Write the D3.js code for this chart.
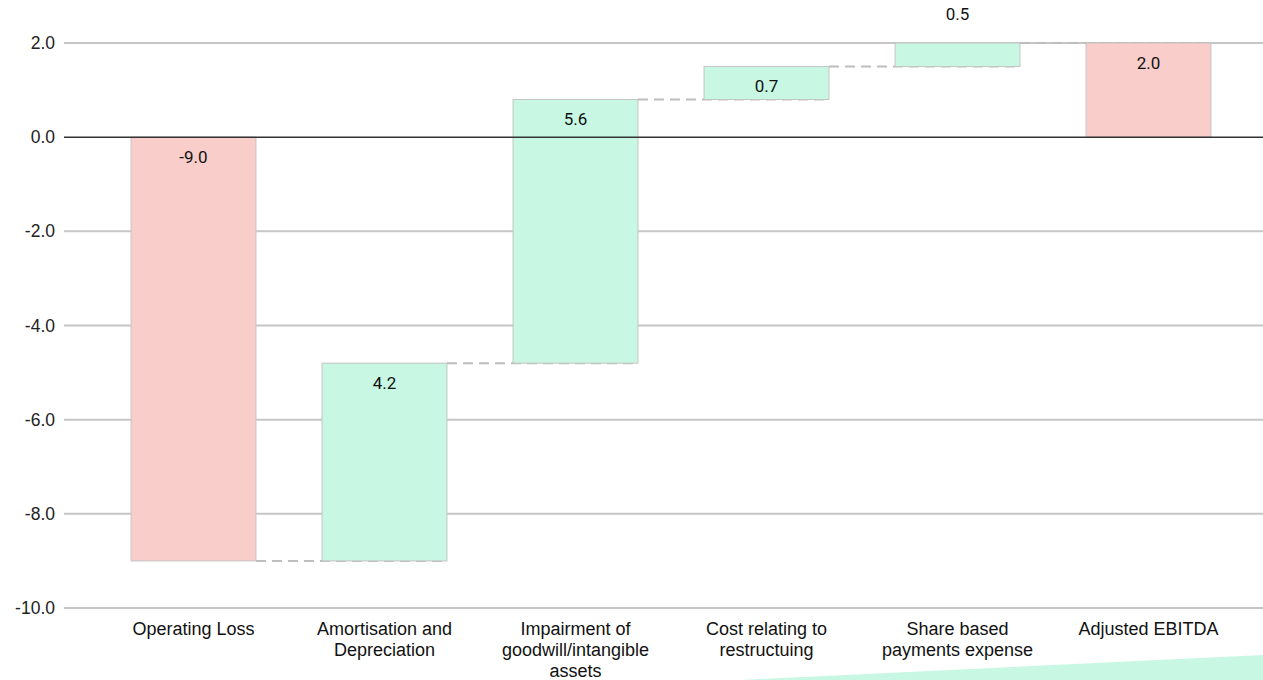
<!DOCTYPE html>
<html>
<head>
<meta charset="utf-8">
<script src="https://cdn.jsdelivr.net/npm/d3@7"></script>
<style>
  html, body { margin: 0; padding: 0; background: #fff; }
  svg { display: block; }
</style>
</head>
<body>
<svg id="chart" width="1263" height="680"></svg>
<script>
// Bridge from operating loss to adjusted EBITDA
const categories = [
  "Operating Loss",
  "Amortisation and Depreciation",
  "Impairment of goodwill/intangible assets",
  "Cost relating to restructuing",
  "Share based payments expense",
  "Adjusted EBITDA"
];
const categoryLines = [
  ["Operating Loss"],
  ["Amortisation and", "Depreciation"],
  ["Impairment of", "goodwill/intangible", "assets"],
  ["Cost relating to", "restructuing"],
  ["Share based", "payments expense"],
  ["Adjusted EBITDA"]
];
const values = [-9.0, 4.2, 5.6, 0.7, 0.5, 2.0];
const isTotal = [true, false, false, false, false, true];
const yTicks = [-10, -8, -6, -4, -2, 0, 2];

const W = 1263, H = 680;
const svg = d3.select("#chart");
const fmt = d3.formatLocale({ decimal: ".", thousands: ",", grouping: [3], currency: ["", ""], minus: "-" }).format(".1f");

const gridLeft = 64, gridRight = W;
const x = d3.scaleBand().domain(categories).range([98, 1244]).paddingInner(0.346).paddingOuter(0.173);
const y = d3.scaleLinear().domain([-10, 2]).range([608, 43]);

// start/end level of each step
let running = 0;
const steps = categories.map((c, i) => {
  let start, end;
  if (isTotal[i]) { start = 0; end = values[i]; running = values[i]; }
  else { start = running; end = running + values[i]; running = end; }
  return { cat: c, value: values[i], start, end, total: isTotal[i], lines: categoryLines[i] };
});

// decorative wedge in the lower right
svg.append("polygon")
  .attr("points", [[740, H], [W, 655], [W, H]].map(p => p.join(",")).join(" "))
  .attr("fill", "#c8f8e3");

// gridlines and y tick labels
const yAxis = svg.append("g");
yAxis.selectAll("line.grid").data(yTicks.filter(t => t !== 0)).join("line")
  .attr("class", "grid")
  .attr("x1", gridLeft).attr("x2", gridRight)
  .attr("y1", d => y(d)).attr("y2", d => y(d))
  .attr("stroke", "#c6c6c6").attr("stroke-width", 2);
yAxis.selectAll("text").data(yTicks).join("text")
  .attr("x", 55).attr("y", d => y(d)).attr("dy", "0.35em")
  .attr("text-anchor", "end")
  .attr("font-family", "'Liberation Sans', Arial, sans-serif")
  .attr("font-size", 17.5).attr("fill", "#222")
  .text(d => fmt(d));

// connectors between consecutive bars
const conn = steps.slice(0, -1).map((s, i) => ({
  x1: x(s.cat) + x.bandwidth(),
  x2: x(steps[i + 1].cat) + x.bandwidth(),
  level: s.end
}));
svg.append("g").selectAll("line").data(conn).join("line")
  .attr("x1", d => d.x1).attr("x2", d => d.x2)
  .attr("y1", d => y(d.level)).attr("y2", d => y(d.level))
  .attr("stroke", "#bdbdbd").attr("stroke-width", 2)
  .attr("stroke-dasharray", "10,6");

// bars
svg.append("g").selectAll("rect").data(steps).join("rect")
  .attr("x", d => x(d.cat))
  .attr("width", x.bandwidth())
  .attr("y", d => y(Math.max(d.start, d.end)))
  .attr("height", d => Math.abs(y(d.start) - y(d.end)))
  .attr("fill", d => d.total ? "#f9cdca" : "#c8f8e3")
  .attr("stroke", "#c4c4c4").attr("stroke-width", 1);

// zero line
svg.append("line")
  .attr("x1", gridLeft).attr("x2", gridRight)
  .attr("y1", y(0)).attr("y2", y(0))
  .attr("stroke", "#333").attr("stroke-width", 1.5);

// value labels (short bars get their label above the bar)
svg.append("g").selectAll("text").data(steps).join("text")
  .attr("x", d => x(d.cat) + x.bandwidth() / 2)
  .attr("y", d => {
    const top = y(Math.max(d.start, d.end));
    const h = Math.abs(y(d.start) - y(d.end));
    return h < 28 ? top - 29 : top + 20;
  })
  .attr("dy", "0.35em")
  .attr("text-anchor", "middle")
  .attr("font-family", "Roboto, 'Liberation Sans', Arial, sans-serif")
  .attr("font-size", 17).attr("fill", "#111")
  .attr("stroke", "#fff").attr("stroke-width", 3).attr("paint-order", "stroke")
  .attr("stroke-opacity", d => Math.abs(y(d.start) - y(d.end)) < 28 ? 1 : 0)
  .text(d => fmt(d.value));

// category labels
const cl = svg.append("g").selectAll("text").data(steps).join("text")
  .attr("x", d => x(d.cat) + x.bandwidth() / 2)
  .attr("y", 635)
  .attr("text-anchor", "middle")
  .attr("font-family", "'Liberation Sans', Arial, sans-serif")
  .attr("font-size", 18).attr("fill", "#111");
cl.selectAll("tspan").data(d => d.lines).join("tspan")
  .attr("x", function() { return d3.select(this.parentNode).attr("x"); })
  .attr("dy", (d, i) => i === 0 ? 0 : 21)
  .text(d => d);
</script>
</body>
</html>
